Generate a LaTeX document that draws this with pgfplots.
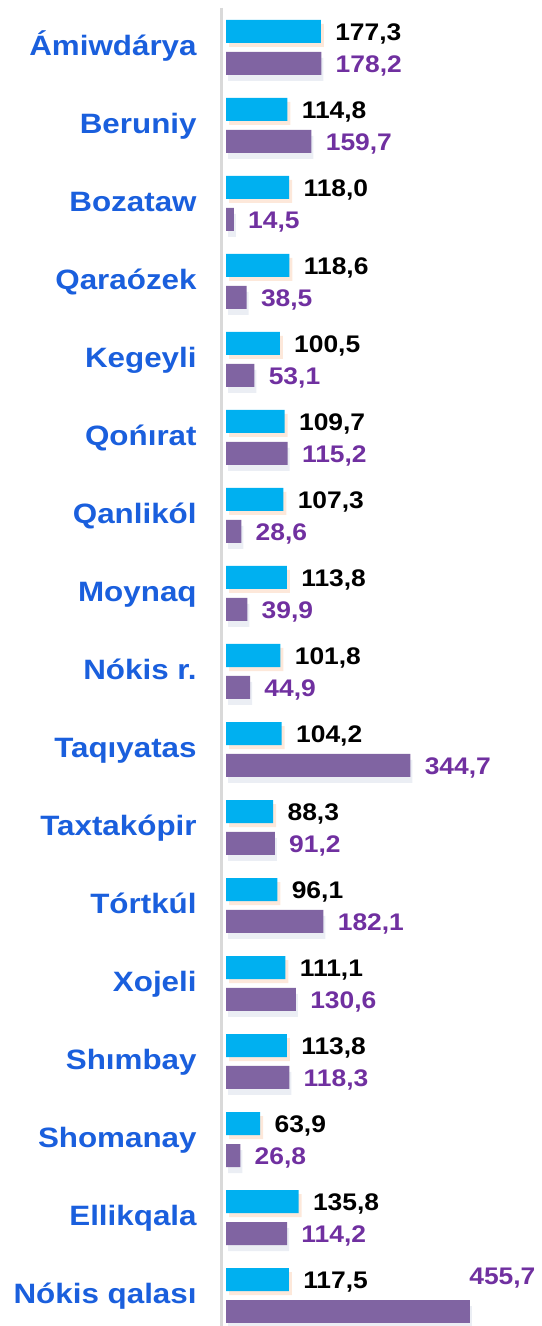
\documentclass[border=0pt]{standalone}
\usepackage{pgfplots}
\pgfplotsset{compat=1.18}
\usepackage{pgfplotstable}
\usepackage{fontspec}
\setmainfont{Liberation Sans}
\newfontfamily\catfont{Liberation Sans}[FakeStretch=1.12]
\newfontfamily\numfont{Liberation Sans}[FakeStretch=1.1]

\definecolor{barcyan}{HTML}{00B0F0}
\definecolor{barpurple}{HTML}{8064A2}
\definecolor{labpurple}{HTML}{7030A0}
\definecolor{catblue}{HTML}{1A5FDD}
\definecolor{axisgray}{HTML}{D9D9D9}
\definecolor{shadowpeach}{HTML}{FDE8DA}
\definecolor{shadowgray}{HTML}{EBEEF4}

% value, bar position (row index -/+ 0.205)
\pgfplotstableread{
v y
177.3 -0.205
114.8 0.795
118.0 1.795
118.6 2.795
100.5 3.795
109.7 4.795
107.3 5.795
113.8 6.795
101.8 7.795
104.2 8.795
88.3 9.795
96.1 10.795
111.1 11.795
113.8 12.795
63.9 13.795
135.8 14.795
117.5 15.795
}\cyandata

\pgfplotstableread{
v y
178.2 0.205
159.7 1.205
14.5 2.205
38.5 3.205
53.1 4.205
115.2 5.205
28.6 6.205
39.9 7.205
44.9 8.205
344.7 9.205
91.2 10.205
182.1 11.205
130.6 12.205
118.3 13.205
26.8 14.205
114.2 15.205
}\purpledata

\pgfplotstableread{
v y
455.7 16.205
}\purplelast

\pgfkeys{/pgf/number format/.cd, use comma, fixed, fixed zerofill, precision=1, assume math mode=true}

\begin{document}
\begin{tikzpicture}
\path[use as bounding box] (0,0) rectangle (270.5pt,663pt);
\begin{axis}[
    at={(110.5pt,0pt)}, anchor=south west,
    scale only axis,
    width=160pt, height=659pt,
    xmin=-9.35, xmax=588.8,
    ymin=-0.506, ymax=16.391,
    y dir=reverse,
    xbar, bar width=11.5pt, bar shift=0pt,
    axis x line=none,
    axis y line*=left,
    y axis line style={draw=axisgray, line width=1.5pt},
    ytick={0,...,16},
    yticklabels={Ámiwdárya, Beruniy, Bozataw, Qaraózek, Kegeyli, Qońırat, Qanlikól, Moynaq, Nókis r., Taqıyatas, Taxtakópir, Tórtkúl, Xojeli, Shımbay, Shomanay, Ellikqala, Nókis qalası},
    major tick length=0pt,
    ytick style={draw=none},
    yticklabel style={anchor=base east, inner sep=0pt, xshift=-12pt, yshift=-4pt,
        font=\fontsize{14pt}{16pt}\selectfont\catfont\bfseries, text=catblue},
    clip=false,
    point meta=x,
    nodes near coords={\pgfmathprintnumber{\pgfplotspointmeta}},
    every node near coord/.style={anchor=base west, inner sep=0pt, xshift=7pt, yshift=-4.5pt,
        font=\fontsize{12pt}{14pt}\selectfont\numfont\bfseries},
]
% soft shadows
\addplot[fill=shadowpeach, draw=none, xshift=1.5pt, yshift=-2pt, nodes near coords={}] table[x=v, y=y] {\cyandata};
\addplot[fill=shadowgray, draw=none, xshift=1pt, yshift=-3pt, nodes near coords={}] table[x=v, y=y] {\purpledata};
\addplot[fill=shadowgray, draw=none, xshift=1pt, yshift=-3pt, nodes near coords={}] table[x=v, y=y] {\purplelast};
% bars
\addplot[fill=barcyan, draw=none, nodes near coords style={text=black}] table[x=v, y=y] {\cyandata};
\addplot[fill=barpurple, draw=none, nodes near coords style={text=labpurple}] table[x=v, y=y] {\purpledata};
% the last label sits above the long bar (shifts add to the ones above)
\addplot[fill=barpurple, draw=none, nodes near coords style={text=labpurple, anchor=base east, xshift=26pt, yshift=18pt}] table[x=v, y=y] {\purplelast};
\end{axis}
\end{tikzpicture}
\end{document}
